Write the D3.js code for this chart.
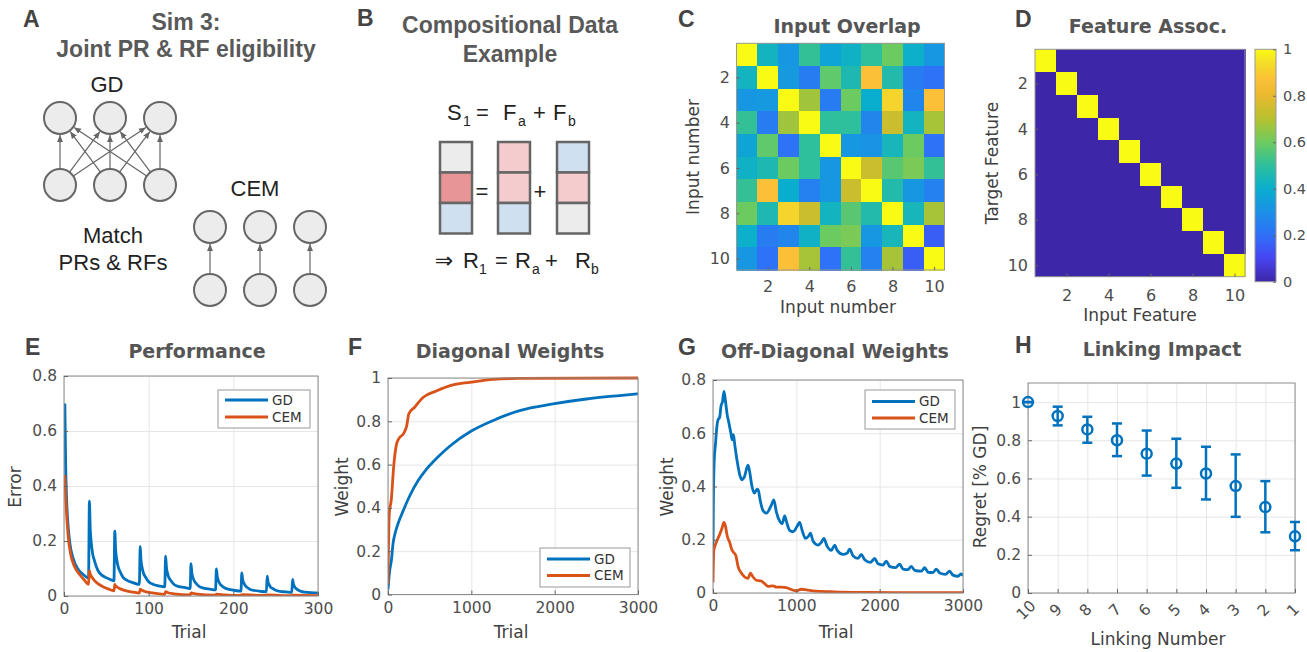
<!DOCTYPE html>
<html>
<head>
<meta charset="utf-8">
<script src="https://cdn.jsdelivr.net/npm/d3@7"></script>
<style>
  body { margin: 0; background: #fff; }
  svg text { font-family: "DejaVu Sans", sans-serif; }
</style>
</head>
<body>
<svg id="fig" width="1307" height="652"></svg>
<script>
// ---------- data ----------
// C: input overlap matrix (rows = input number 1..10, cols = input number 1..10)
const overlap = [
  [1.00, 0.43, 0.32, 0.51, 0.37, 0.42, 0.50, 0.60, 0.41, 0.32],
  [0.43, 1.00, 0.33, 0.24, 0.58, 0.46, 0.87, 0.47, 0.24, 0.21],
  [0.32, 0.33, 1.00, 0.67, 0.24, 0.60, 0.40, 0.92, 0.27, 0.87],
  [0.51, 0.24, 0.67, 1.00, 0.50, 0.50, 0.27, 0.74, 0.43, 0.68],
  [0.37, 0.58, 0.21, 0.50, 1.00, 0.32, 0.31, 0.44, 0.60, 0.21],
  [0.42, 0.46, 0.60, 0.50, 0.32, 1.00, 0.74, 0.57, 0.62, 0.51],
  [0.51, 0.87, 0.40, 0.25, 0.32, 0.74, 1.00, 0.47, 0.32, 0.25],
  [0.60, 0.46, 0.92, 0.74, 0.43, 0.57, 0.47, 1.00, 0.44, 0.68],
  [0.41, 0.24, 0.27, 0.42, 0.60, 0.62, 0.32, 0.44, 1.00, 0.16],
  [0.32, 0.21, 0.87, 0.68, 0.21, 0.51, 0.25, 0.68, 0.16, 1.00]
];
// D: feature association (target feature x input feature)
const assoc = [
  [1,0,0,0,0,0,0,0,0,0],
  [0,1,0,0,0,0,0,0,0,0],
  [0,0,1,0,0,0,0,0,0,0],
  [0,0,0,1,0,0,0,0,0,0],
  [0,0,0,0,1,0,0,0,0,0],
  [0,0,0,0,0,1,0,0,0,0],
  [0,0,0,0,0,0,1,0,0,0],
  [0,0,0,0,0,0,0,1,0,0],
  [0,0,0,0,0,0,0,0,1,0],
  [0,0,0,0,0,0,0,0,0,1]
];
const cbTicks = [0, 0.2, 0.4, 0.6, 0.8, 1];
const gridTicks = [2, 4, 6, 8, 10];

// E: performance (trial, error)
const perfGD = [
  [1,0.70],[2,0.47],[3,0.36],[5,0.25],[7,0.19],[11,0.135],[16,0.10],[22,0.08],[29,0.065],
  [30,0.345],[31,0.244],[32,0.20],[34,0.151],[36,0.128],[40,0.093],[45,0.075],[52,0.064],[59,0.055],
  [60,0.236],[61,0.168],[62,0.139],[64,0.106],[66,0.09],[70,0.067],[75,0.056],[82,0.048],[89,0.042],
  [90,0.18],[91,0.129],[92,0.107],[94,0.082],[96,0.07],[100,0.052],[105,0.043],[112,0.037],[119,0.033],
  [120,0.145],[121,0.104],[122,0.086],[124,0.066],[126,0.057],[130,0.042],[135,0.035],[142,0.031],[149,0.027],
  [150,0.118],[151,0.084],[152,0.07],[154,0.054],[156,0.046],[160,0.034],[165,0.029],[172,0.025],[179,0.022],
  [180,0.099],[181,0.071],[182,0.059],[184,0.045],[186,0.038],[190,0.029],[195,0.024],[202,0.02],[209,0.018],
  [210,0.084],[211,0.06],[212,0.05],[214,0.038],[216,0.032],[220,0.024],[225,0.02],[232,0.017],[239,0.015],
  [240,0.072],[241,0.051],[242,0.043],[244,0.032],[246,0.028],[250,0.021],[255,0.017],[262,0.015],[269,0.013],
  [270,0.06],[271,0.043],[272,0.036],[274,0.027],[276,0.023],[280,0.017],[285,0.014],[292,0.012],[300,0.011]
];
const perfCEM = [
  [1,0.44],[2,0.36],[3,0.30],[5,0.215],[8,0.15],[12,0.11],[18,0.08],[24,0.058],[29,0.042],
  [30,0.092],[31,0.08],[33,0.068],[36,0.056],[40,0.045],[46,0.034],[52,0.026],[59,0.019],
  [60,0.042],[61,0.037],[64,0.03],[68,0.024],[75,0.018],[84,0.013],[89,0.011],
  [90,0.025],[92,0.021],[96,0.016],[104,0.011],[119,0.006],
  [120,0.016],[123,0.012],[130,0.008],[149,0.004],
  [150,0.011],[155,0.008],[179,0.003],
  [180,0.007],[190,0.004],[209,0.002],
  [210,0.005],[239,0.002],[240,0.004],[269,0.001],[270,0.003],[300,0.001]
];

// F: diagonal weights (trial, weight)
const diagGD = [
  [0,0.023],[20,0.11],[40,0.156],[60,0.234],[90,0.29],[120,0.327],[180,0.385],[260,0.455],
  [360,0.525],[460,0.578],[580,0.628],[740,0.685],[1000,0.755],[1300,0.81],[1580,0.849],
  [1980,0.88],[2380,0.903],[2780,0.919],[3000,0.927]
];
const diagCEM = [
  [0,0.05],[15,0.37],[40,0.44],[70,0.60],[100,0.69],[130,0.72],[190,0.745],[225,0.78],
  [250,0.835],[320,0.865],[420,0.91],[580,0.94],[780,0.968],[980,0.98],[1260,0.994],
  [1580,0.998],[3000,1.0]
];

// G: off-diagonal weights (trial, weight)
const offGD = [
  [0,0.15],[5,0.35],[15,0.50],[30,0.56],[45,0.62],[60,0.65],[80,0.66],[95,0.70],[115,0.72],
  [132,0.757],[150,0.72],[170,0.67],[190,0.64],[215,0.60],[230,0.575],[245,0.595],[262,0.555],
  [290,0.495],[320,0.445],[350,0.425],[375,0.435],[420,0.48],[440,0.455],[465,0.405],[495,0.375],
  [530,0.39],[545,0.385],[565,0.35],[600,0.31],[640,0.30],[700,0.33],[730,0.35],[760,0.305],
  [800,0.27],[830,0.26],[860,0.29],[880,0.27],[920,0.235],[960,0.23],[1000,0.245],[1040,0.265],
  [1070,0.235],[1110,0.205],[1150,0.215],[1170,0.225],[1200,0.195],[1260,0.18],[1300,0.19],
  [1330,0.205],[1370,0.175],[1420,0.16],[1460,0.18],[1490,0.16],[1560,0.145],[1610,0.15],
  [1640,0.165],[1680,0.14],[1740,0.13],[1780,0.145],[1820,0.125],[1890,0.115],[1940,0.13],
  [1980,0.11],[2040,0.105],[2080,0.12],[2120,0.10],[2190,0.095],[2240,0.108],[2280,0.09],
  [2340,0.088],[2380,0.10],[2420,0.085],[2500,0.082],[2540,0.095],[2580,0.078],[2640,0.077],
  [2680,0.09],[2720,0.075],[2790,0.07],[2840,0.082],[2880,0.067],[2940,0.063],[2975,0.072],[3000,0.065]
];
const offCEM = [
  [0,0.04],[10,0.16],[40,0.19],[80,0.22],[110,0.245],[130,0.265],[150,0.25],[170,0.215],
  [200,0.19],[230,0.16],[255,0.15],[275,0.14],[300,0.10],[340,0.075],[380,0.06],[420,0.055],
  [450,0.075],[480,0.06],[520,0.048],[580,0.045],[620,0.035],[660,0.025],[720,0.027],[760,0.022],
  [820,0.022],[880,0.02],[940,0.013],[1000,0.008],[1060,0.014],[1120,0.012],[1200,0.008],
  [1300,0.006],[1400,0.005],[1550,0.003],[1800,0.002],[2200,0.001],[3000,0.001]
];

// H: linking impact
const linkNumbers = [10, 9, 8, 7, 6, 5, 4, 3, 2, 1];
const regretMean = [1.0, 0.927, 0.857, 0.80, 0.73, 0.678, 0.626, 0.56, 0.45, 0.297];
const regretLow  = [1.0, 0.878, 0.787, 0.717, 0.615, 0.551, 0.49, 0.399, 0.318, 0.224];
const regretHigh = [1.0, 0.976, 0.923, 0.888, 0.851, 0.808, 0.766, 0.726, 0.586, 0.372];

// parula-like colormap stops
const parulaStops = [
  [0, "#3e26a8"], [0.1, "#4745f0"], [0.2, "#2f6ff9"], [0.3, "#1b90e6"],
  [0.4, "#09aecf"], [0.5, "#2ebf9c"], [0.6, "#6ccb60"], [0.7, "#b6c22e"],
  [0.8, "#eab92e"], [0.87, "#fcbf38"], [0.93, "#f4d82a"], [1, "#f9fb15"]
];

// ---------- setup ----------
const BLUE = "#0072bd", ORANGE = "#d95319";
const ARIAL = '"Liberation Sans", Arial, sans-serif';
const TICKC = "#4d4d4d", LABC = "#404040", TITLEC = "#555";
const parula = d3.scaleLinear()
  .domain(parulaStops.map(s => s[0]))
  .range(parulaStops.map(s => s[1]))
  .interpolate(d3.interpolateRgb).clamp(true);

const svg = d3.select("#fig");
svg.append("rect").attr("width", 1307).attr("height", 652).attr("fill", "#fff");

function txt(t, x, y, o) {
  o = o || {};
  return svg.append("text").attr("x", x).attr("y", y).text(t)
    .attr("font-size", o.size || 17)
    .attr("font-weight", o.bold ? "bold" : "normal")
    .attr("fill", o.fill || LABC)
    .attr("text-anchor", o.anchor || "middle")
    .style("font-family", o.font || '"DejaVu Sans", sans-serif');
}
function letter(t, x, y) { txt(t, x, y, {size: 23, bold: true, fill: "#444", anchor: "start", font: ARIAL}); }
function title(t, x, y) { txt(t, x, y, {size: 19, bold: true, fill: TITLEC}); }
function ylab(t, x, y) {
  svg.append("text").attr("transform", `translate(${x},${y}) rotate(-90)`)
    .attr("text-anchor", "middle").attr("dy", "0.35em")
    .attr("font-size", 17).attr("fill", LABC).text(t);
}
function styleAxis(g, size) {
  g.attr("font-family", null).attr("font-size", null);
  g.select(".domain").remove();
  g.selectAll("line").attr("stroke", "#666");
  g.selectAll("text").attr("fill", TICKC).attr("font-size", size || 15.5);
}

// ---------- panel A ----------
letter("A", 23, 27);
txt("Sim 3:", 186, 30, {size: 23, bold: true, fill: "#595959", font: ARIAL});
txt("Joint PR & RF eligibility", 186, 57, {size: 23, bold: true, fill: "#595959", font: ARIAL});
txt("GD", 107, 92, {size: 22, fill: "#222", font: ARIAL});
txt("CEM", 255, 196, {size: 22, fill: "#222", font: ARIAL});
txt("Match", 113, 243, {size: 22, fill: "#222", font: ARIAL});
txt("PRs & RFs", 113, 270, {size: 22, fill: "#222", font: ARIAL});

const defs = svg.append("defs");
defs.append("marker").attr("id", "ah").attr("markerUnits", "userSpaceOnUse")
  .attr("markerWidth", 8).attr("markerHeight", 8).attr("refX", 7).attr("refY", 4)
  .attr("orient", "auto")
  .append("path").attr("d", "M0,1 L7,4 L0,7 Z").attr("fill", "#666");

const R = 16;
function node(cx, cy) {
  svg.append("circle").attr("cx", cx).attr("cy", cy).attr("r", R)
    .attr("fill", "#ececec").attr("stroke", "#666").attr("stroke-width", 2);
}
function arrow(x1, y1, x2, y2) {
  const dx = x2 - x1, dy = y2 - y1, L = Math.hypot(dx, dy);
  const ux = dx / L, uy = dy / L;
  svg.append("line")
    .attr("x1", x1 + ux * R).attr("y1", y1 + uy * R)
    .attr("x2", x2 - ux * (R + 1)).attr("y2", y2 - uy * (R + 1))
    .attr("stroke", "#666").attr("stroke-width", 1.2).attr("marker-end", "url(#ah)");
}
const gdX = [60, 110, 160];
gdX.forEach(xb => gdX.forEach(xt => arrow(xb, 185, xt, 118)));
gdX.forEach(x => { node(x, 118); node(x, 185); });
const cemX = [210, 260, 310];
cemX.forEach(x => { arrow(x, 290, x, 227); node(x, 227); node(x, 290); });

// ---------- panel B ----------
letter("B", 357, 26);
txt("Compositional Data", 510, 33, {size: 23, bold: true, fill: "#595959", font: ARIAL});
txt("Example", 510, 62, {size: 23, bold: true, fill: "#595959", font: ARIAL});

function eqPart(t, x, y, sub) {
  txt(t, x, sub ? y + 6 : y, {size: sub ? 14 : 22, fill: "#222", anchor: "start", font: ARIAL});
}
eqPart("S", 447, 120); eqPart("1", 463, 120, true); eqPart("=", 476, 120);
eqPart("F", 503, 120); eqPart("a", 518, 120, true); eqPart("+", 533, 120);
eqPart("F", 553, 120); eqPart("b", 568, 120, true);

txt("\u21D2", 444, 268, {size: 22, fill: "#222", font: '"DejaVu Sans", sans-serif'});
eqPart("R", 463, 268); eqPart("1", 479, 268, true); eqPart("=", 495, 268);
eqPart("R", 515, 268); eqPart("a", 532, 268, true); eqPart("+", 545, 268);
eqPart("R", 575, 268); eqPart("b", 591, 268, true);

const bCols = [
  {x: 440, fills: ["#ececec", "#e89597", "#cfe0f1"]},
  {x: 498, fills: ["#f4cccd", "#f4cccd", "#cfe0f1"]},
  {x: 557, fills: ["#cfe0f1", "#f4cccd", "#ececec"]}
];
bCols.forEach(c => c.fills.forEach((f, i) => {
  svg.append("rect").attr("x", c.x).attr("y", 142 + i * 30.5).attr("width", 32).attr("height", 30.5)
    .attr("fill", f).attr("stroke", "#666").attr("stroke-width", 2.5);
}));
txt("=", 482, 199, {size: 22, fill: "#222", font: ARIAL});
txt("+", 540, 199, {size: 22, fill: "#222", font: ARIAL});

// ---------- heatmaps C & D ----------
function heatmap(p) {
  const x = d3.scaleLinear().domain([0.5, 10.5]).range([p.left, p.right]);
  const y = d3.scaleLinear().domain([0.5, 10.5]).range([p.top, p.bottom]);
  const g = svg.append("g");
  p.data.forEach((row, i) => row.forEach((v, j) => {
    g.append("rect").attr("x", x(j + 0.5)).attr("y", y(i + 0.5))
      .attr("width", x(j + 1.5) - x(j + 0.5) + 0.6).attr("height", y(i + 1.5) - y(i + 0.5) + 0.6)
      .attr("fill", parula(v)).attr("shape-rendering", "crispEdges");
  }));
  g.append("rect").attr("x", p.left).attr("y", p.top)
    .attr("width", p.right - p.left).attr("height", p.bottom - p.top)
    .attr("fill", "none").attr("stroke", "#999").attr("stroke-width", 1);
  const ax = g.append("g").attr("transform", `translate(0,${p.bottom})`)
    .call(d3.axisBottom(x).tickValues(gridTicks).tickSize(-3).tickPadding(p.xPad));
  styleAxis(ax, 16);
  const ay = g.append("g").attr("transform", `translate(${p.left},0)`)
    .call(d3.axisLeft(y).tickValues(gridTicks).tickSize(-3).tickPadding(p.yPad));
  styleAxis(ay, 16);
  return {x, y};
}

letter("C", 678, 27);
title("Input Overlap", 847, 33);
heatmap({data: overlap, left: 736.5, right: 944.5, top: 43.3, bottom: 270, xPad: 11, yPad: 6.5});
txt("Input number", 838, 313);
ylab("Input number", 693, 157);

letter("D", 1015, 27);
title("Feature Assoc.", 1148, 33);
heatmap({data: assoc, left: 1035, right: 1245, top: 49.3, bottom: 276.7, xPad: 13, yPad: 7});
txt("Input Feature", 1140, 321);
ylab("Target Feature", 992, 163);

// colorbar
const grad = defs.append("linearGradient").attr("id", "cbar")
  .attr("x1", 0).attr("y1", 1).attr("x2", 0).attr("y2", 0);
d3.range(0, 1.0001, 0.02).forEach(t => grad.append("stop").attr("offset", t).attr("stop-color", parula(t)));
const cbY = d3.scaleLinear().domain([0, 1]).range([281.7, 49.3]);
svg.append("rect").attr("x", 1255).attr("y", 49.3).attr("width", 21).attr("height", 232.4)
  .attr("fill", "url(#cbar)").attr("stroke", "#999").attr("stroke-width", 1);
const cba = svg.append("g").attr("transform", "translate(1276,0)")
  .call(d3.axisRight(cbY).tickValues(cbTicks).tickSize(-3).tickPadding(7).tickFormat(d => String(d)));
styleAxis(cba, 14.5);

// ---------- line panels E, F, G ----------
function linePanel(p) {
  const x = d3.scaleLinear().domain(p.xDomain).range([p.left, p.right]);
  const y = d3.scaleLinear().domain(p.yDomain).range([p.bottom, p.top]);
  const g = svg.append("g");
  const W = p.right - p.left, H = p.bottom - p.top;
  const gx = g.append("g").attr("transform", `translate(0,${p.bottom})`)
    .call(d3.axisBottom(x).tickValues(p.xTicks).tickSize(-H).tickFormat(""));
  gx.select(".domain").remove(); gx.selectAll("line").attr("stroke", "#e6e6e6");
  const gy = g.append("g").attr("transform", `translate(${p.left},0)`)
    .call(d3.axisLeft(y).tickValues(p.yTicks).tickSize(-W).tickFormat(""));
  gy.select(".domain").remove(); gy.selectAll("line").attr("stroke", "#e6e6e6");

  defs.append("clipPath").attr("id", "clip" + p.key).append("rect")
    .attr("x", p.left).attr("y", p.top - 2).attr("width", W).attr("height", H + 2);
  const line = d3.line().x(d => x(d[0])).y(d => y(d[1])).curve(d3.curveMonotoneX);
  p.series.forEach(s => {
    g.append("path").datum(s.data).attr("d", line)
      .attr("fill", "none").attr("stroke", s.color).attr("stroke-width", 2.8)
      .attr("stroke-linejoin", "round").attr("clip-path", `url(#clip${p.key})`);
  });
  g.append("rect").attr("x", p.left).attr("y", p.top).attr("width", W).attr("height", H)
    .attr("fill", "none").attr("stroke", "#8c8c8c").attr("stroke-width", 1);
  const ax = g.append("g").attr("transform", `translate(0,${p.bottom})`)
    .call(d3.axisBottom(x).tickValues(p.xTicks).tickSize(-4).tickPadding(7).tickFormat(d => String(d)));
  styleAxis(ax);
  const ay = g.append("g").attr("transform", `translate(${p.left},0)`)
    .call(d3.axisLeft(y).tickValues(p.yTicks).tickSize(-4).tickPadding(7).tickFormat(d => String(d)));
  styleAxis(ay);

  // legend
  const L = p.legend;
  g.append("rect").attr("x", L.x).attr("y", L.y).attr("width", L.w).attr("height", L.h)
    .attr("fill", "#fff").attr("stroke", "#999").attr("stroke-width", 1);
  p.series.forEach((s, i) => {
    const yy = L.y + L.row0 + i * L.dy;
    g.append("line").attr("x1", L.x + 7).attr("x2", L.x + 50).attr("y1", yy).attr("y2", yy)
      .attr("stroke", s.color).attr("stroke-width", 2.8);
    g.append("text").attr("x", L.x + 54).attr("y", yy).attr("dy", "0.36em")
      .attr("font-size", 13.5).attr("fill", "#333").text(s.name);
  });
  letter(p.letter, p.letterX, 355);
  title(p.title, p.titleX, 358);
  txt("Trial", (p.left + p.right) / 2 - 2, 638);
  ylab(p.ylabel, p.ylabelX, 487);
}

linePanel({
  key: "E", left: 64, right: 318, top: 376, bottom: 596,
  xDomain: [0, 300], yDomain: [0, 0.8],
  xTicks: [0, 100, 200, 300], yTicks: [0, 0.2, 0.4, 0.6, 0.8],
  series: [{data: perfGD, color: BLUE, name: "GD"}, {data: perfCEM, color: ORANGE, name: "CEM"}],
  legend: {x: 218, y: 390, w: 92, h: 38, row0: 10, dy: 17},
  letter: "E", letterX: 25, title: "Performance", titleX: 197,
  ylabel: "Error", ylabelX: 15
});
linePanel({
  key: "F", left: 388, right: 638, top: 378, bottom: 594.5,
  xDomain: [0, 3000], yDomain: [0, 1],
  xTicks: [0, 1000, 2000, 3000], yTicks: [0, 0.2, 0.4, 0.6, 0.8, 1],
  series: [{data: diagGD, color: BLUE, name: "GD"}, {data: diagCEM, color: ORANGE, name: "CEM"}],
  legend: {x: 540, y: 548, w: 90, h: 39, row0: 11, dy: 16.5},
  letter: "F", letterX: 348, title: "Diagonal Weights", titleX: 510,
  ylabel: "Weight", ylabelX: 342
});
linePanel({
  key: "G", left: 713, right: 963, top: 380, bottom: 593,
  xDomain: [0, 3000], yDomain: [0, 0.8],
  xTicks: [0, 1000, 2000, 3000], yTicks: [0, 0.2, 0.4, 0.6, 0.8],
  series: [{data: offGD, color: BLUE, name: "GD"}, {data: offCEM, color: ORANGE, name: "CEM"}],
  legend: {x: 865, y: 390, w: 90, h: 39, row0: 11.5, dy: 16.5},
  letter: "G", letterX: 678, title: "Off-Diagonal Weights", titleX: 835,
  ylabel: "Weight", ylabelX: 667
});

// ---------- panel H ----------
(function () {
  const left = 1028, right = 1295, top = 383, bottom = 593;
  const x = d3.scalePoint().domain(linkNumbers).range([left, right]).padding(0);
  const y = d3.scaleLinear().domain([0, 1.1]).range([bottom, top]);
  const g = svg.append("g");
  const gx = g.append("g").attr("transform", `translate(0,${bottom})`)
    .call(d3.axisBottom(x).tickSize(-(bottom - top)).tickFormat(""));
  gx.select(".domain").remove(); gx.selectAll("line").attr("stroke", "#e6e6e6");
  const yT = [0, 0.2, 0.4, 0.6, 0.8, 1];
  const gy = g.append("g").attr("transform", `translate(${left},0)`)
    .call(d3.axisLeft(y).tickValues(yT).tickSize(-(right - left)).tickFormat(""));
  gy.select(".domain").remove(); gy.selectAll("line").attr("stroke", "#e6e6e6");
  g.append("rect").attr("x", left).attr("y", top).attr("width", right - left).attr("height", bottom - top)
    .attr("fill", "none").attr("stroke", "#8c8c8c").attr("stroke-width", 1);
  const ax = g.append("g").attr("transform", `translate(0,${bottom})`)
    .call(d3.axisBottom(x).tickSize(-4).tickFormat(""));
  styleAxis(ax);
  linkNumbers.forEach(n => {
    g.append("text").attr("transform", `translate(${x(n) - 2},610) rotate(-45)`)
      .attr("text-anchor", "middle").attr("dy", "0.35em")
      .attr("font-size", 15.5).attr("fill", TICKC).text(n);
  });
  const ay = g.append("g").attr("transform", `translate(${left},0)`)
    .call(d3.axisLeft(y).tickValues(yT).tickSize(-4).tickPadding(7).tickFormat(d => String(d)));
  styleAxis(ay);

  const eb = g.append("g").attr("stroke", BLUE).attr("stroke-width", 2.5).attr("fill", "none");
  linkNumbers.forEach((n, i) => {
    const cx = x(n);
    eb.append("line").attr("x1", cx).attr("x2", cx).attr("y1", y(regretLow[i])).attr("y2", y(regretHigh[i]));
    eb.append("line").attr("x1", cx - 5).attr("x2", cx + 5).attr("y1", y(regretLow[i])).attr("y2", y(regretLow[i]));
    eb.append("line").attr("x1", cx - 5).attr("x2", cx + 5).attr("y1", y(regretHigh[i])).attr("y2", y(regretHigh[i]));
    eb.append("circle").attr("cx", cx).attr("cy", y(regretMean[i])).attr("r", 5);
  });
  letter("H", 1015, 353);
  title("Linking Impact", 1162, 356);
  txt("Linking Number", 1158, 645);
  ylab("Regret [% GD]", 980, 487);
})();
</script>
</body>
</html>
